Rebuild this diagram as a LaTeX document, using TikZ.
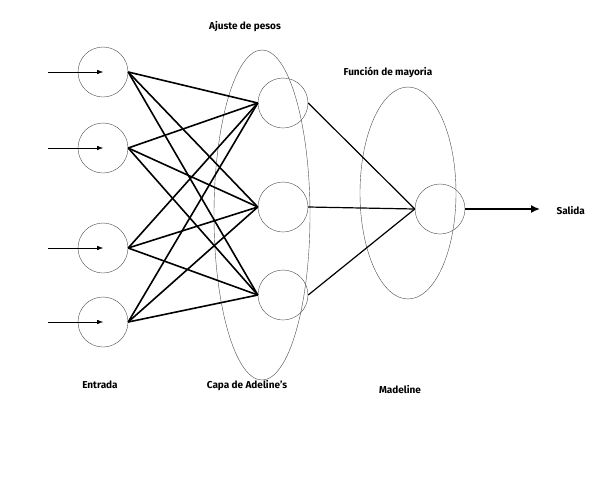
\documentclass[tikz,border=0pt]{standalone}
\usepackage{fontspec}
\setmainfont{Fira Sans}
\usetikzlibrary{arrows.meta}
\begin{document}
\begin{tikzpicture}[x=1pt,y=-1pt,
  neuron/.style={draw=black!70,circle,minimum size=50pt,inner sep=0pt},
  w/.style={line width=1.6pt},
  lbl/.style={font=\fontsize{10}{11}\selectfont\bfseries}]
\useasboundingbox (0,0) rectangle (600,480);
\fill[white] (0,0) rectangle (600,480);
\draw[black!70] (262,215) ellipse [x radius=48, y radius=165];
\draw[black!70] (408,193) ellipse [x radius=48, y radius=106];
\foreach \n/\y in {i1/72,i2/148,i3/248,i4/322}{
  \node[neuron] (\n) at (103,\y) {};
  \coordinate (s\n) at (48,\y);
  \draw[-{Latex[length=6pt]}] (s\n) -- (\n.center);
}
\foreach \n/\y in {h1/103,h2/207,h3/295}{
  \node[neuron] (\n) at (283,\y) {};
}
\node[neuron] (o) at (440,209) {};
\foreach \i in {i1,i2,i3,i4}{
  \foreach \h in {h1,h2,h3}{
    \draw[w] (\i.east) -- (\h.west);
  }
}
\foreach \h in {h1,h2,h3}{ \draw[line width=1.2pt] (\h.east) -- (o.west); }
\node[lbl,anchor=west] (sal) at (553,211) {Salida};
\coordinate (ae) at (540,209);
\draw[line width=1.6pt,-{Latex[length=9pt,width=8pt]}] (o.east) -- (ae);
\node[lbl] (t1) at (245,27) {Ajuste de pesos};
\node[lbl] (t2) at (388,72) {Función de mayoria};
\node[lbl] (t3) at (100,385) {Entrada};
\node[lbl] (t4) at (247,386) {Capa de Adeline's};
\node[lbl] (t5) at (400,390) {Madeline};
\end{tikzpicture}
\end{document}
